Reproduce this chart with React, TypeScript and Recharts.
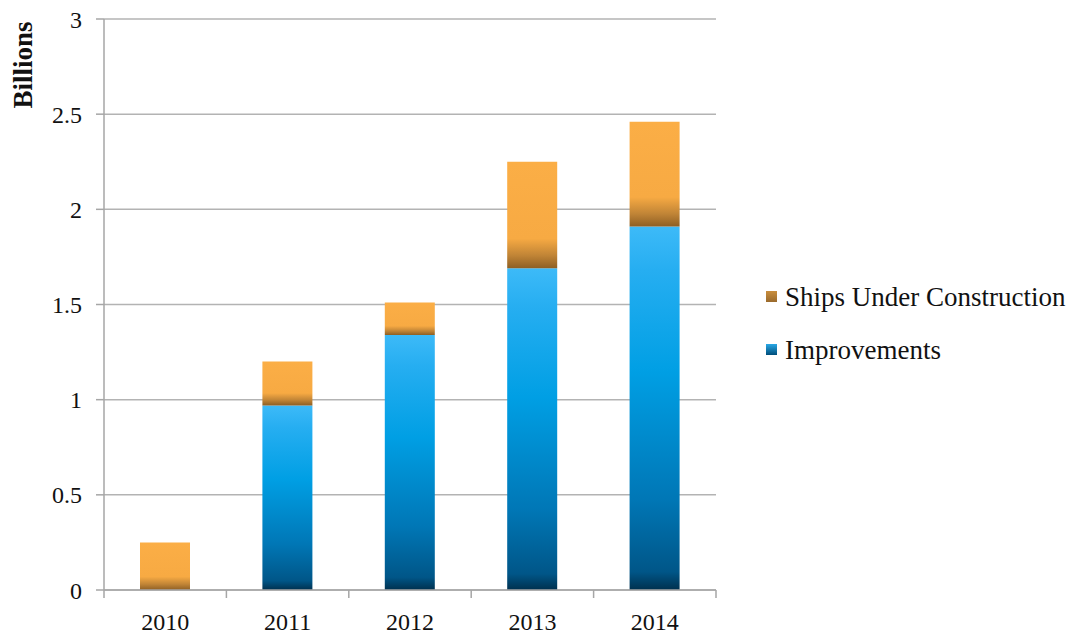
import { BarChart, Bar, XAxis, YAxis, CartesianGrid, Customized } from 'recharts';

const years = ['2010', '2011', '2012', '2013', '2014'];
const improvements = [0, 0.97, 1.34, 1.69, 1.91];
const shipsUnderConstruction = [0.25, 0.23, 0.17, 0.56, 0.55];
const yTicks = [0, 0.5, 1, 1.5, 2, 2.5, 3];

const data = years.map((year, i) => ({
  year,
  improvements: improvements[i],
  ships: shipsUnderConstruction[i],
}));

const FONT = '"Liberation Serif", "DejaVu Serif", serif';
const PLOT_LEFT = 104;
const PLOT_WIDTH = 612;
const BAND = PLOT_WIDTH / years.length;

const XTick = (props: any) => {
  const { x, y, payload, index } = props;
  return (
    <g>
      {index === 0 && (
        <line x1={x - BAND / 2} x2={x - BAND / 2} y1={y - 8} y2={y} stroke="#a6a6a6" strokeWidth={1.5} />
      )}
      <line x1={x + BAND / 2} x2={x + BAND / 2} y1={y - 8} y2={y} stroke="#a6a6a6" strokeWidth={1.5} />
      <text x={x} y={y + 32} textAnchor="middle" fontFamily={FONT} fontSize={24} fill="#111">
        {payload.value}
      </text>
    </g>
  );
};

const legendItems = [
  { label: 'Ships Under Construction', fill: 'url(#legendOrange)' },
  { label: 'Improvements', fill: 'url(#legendBlue)' },
];

const LegendAndTitle = () => (
  <g>
    <text
      transform="translate(32, 65) rotate(-90)"
      textAnchor="middle"
      fontFamily={FONT}
      fontSize={27}
      fontWeight="bold"
      fill="#111"
    >
      Billions
    </text>
    {legendItems.map((item, i) => (
      <g key={item.label}>
        <rect x={766} y={291 + i * 53} width={11} height={11} fill={item.fill} />
        <text x={785} y={306 + i * 53} fontFamily={FONT} fontSize={27} fill="#111">
          {item.label}
        </text>
      </g>
    ))}
  </g>
);

export default function App() {
  return (
    <div style={{ position: 'absolute', left: 0, top: 0, background: '#fff' }}>
      <BarChart
        width={1088}
        height={634}
        data={data}
        margin={{ top: 19, right: 1088 - PLOT_LEFT - PLOT_WIDTH, bottom: 0, left: 0 }}
        barSize={50}
      >
        <defs>
          <linearGradient id="blueGrad" x1="0" y1="0" x2="0" y2="1">
            <stop offset="0" stopColor="#3dbaf8" />
            <stop offset="0.12" stopColor="#26aef1" />
            <stop offset="0.4" stopColor="#009fe4" />
            <stop offset="0.75" stopColor="#0077b6" />
            <stop offset="0.95" stopColor="#005688" />
            <stop offset="1" stopColor="#00304e" />
          </linearGradient>
          <linearGradient id="orangeGrad" x1="0" y1="0" x2="0" y2="1">
            <stop offset="0" stopColor="#fbae46" />
            <stop offset="0.72" stopColor="#f7aa43" />
            <stop offset="0.88" stopColor="#c08436" />
            <stop offset="1" stopColor="#8e5f24" />
          </linearGradient>
          <linearGradient id="legendOrange" x1="0" y1="0" x2="0" y2="1">
            <stop offset="0" stopColor="#c98e3e" />
            <stop offset="1" stopColor="#9a6a2c" />
          </linearGradient>
          <linearGradient id="legendBlue" x1="0" y1="0" x2="0" y2="1">
            <stop offset="0" stopColor="#29a8e6" />
            <stop offset="1" stopColor="#004d7a" />
          </linearGradient>
        </defs>
        <CartesianGrid vertical={false} stroke="#b3b3b3" strokeWidth={1.5} />
        <XAxis
          dataKey="year"
          axisLine={{ stroke: '#a6a6a6', strokeWidth: 1.5 }}
          tickLine={false}
          tick={<XTick />}
          interval={0}
          height={44}
        />
        <YAxis
          domain={[0, 3]}
          ticks={yTicks}
          width={PLOT_LEFT}
          axisLine={{ stroke: '#a6a6a6', strokeWidth: 1.5 }}
          tickLine={{ stroke: '#a6a6a6', strokeWidth: 1.5 }}
          tickSize={8}
          tickMargin={14}
          tick={{ fontFamily: FONT, fontSize: 24, fill: '#111' }}
          interval={0}
        />
        <Bar dataKey="improvements" stackId="a" fill="url(#blueGrad)" isAnimationActive={false} />
        <Bar dataKey="ships" stackId="a" fill="url(#orangeGrad)" isAnimationActive={false} />
        <Customized component={LegendAndTitle} />
      </BarChart>
    </div>
  );
}
